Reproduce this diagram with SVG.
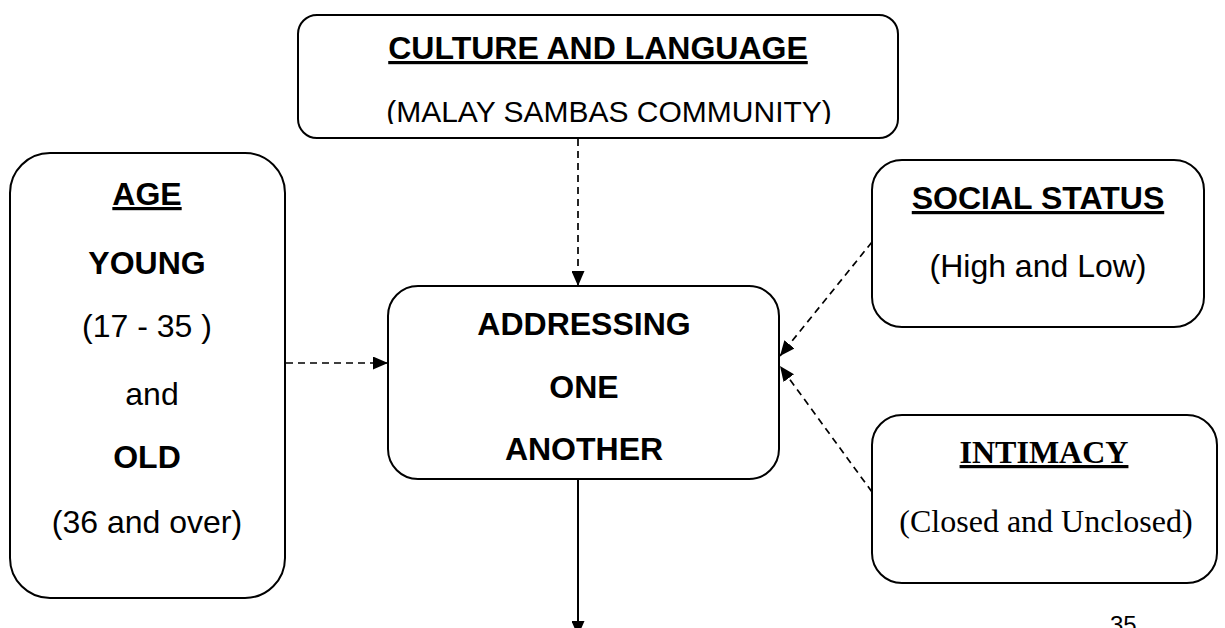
<svg xmlns="http://www.w3.org/2000/svg" width="1225" height="628" viewBox="0 0 1225 628">
<style>
.box{fill:#fff;stroke:#000;stroke-width:2}
.sans{font-family:"Liberation Sans",Arial,sans-serif;font-size:32px;fill:#000;text-anchor:middle}
.serif{font-family:"Liberation Serif","Times New Roman",serif;font-size:32px;fill:#000;text-anchor:middle}
.b{font-weight:bold}
.u{text-decoration:underline}
.dash{fill:none;stroke:#000;stroke-width:1.7;stroke-dasharray:7 5}
.solid{fill:none;stroke:#000;stroke-width:2}
</style>
<defs>
<marker id="ah" viewBox="0 0 15 13" refX="15" refY="6.5" markerWidth="15" markerHeight="13" markerUnits="userSpaceOnUse" orient="auto">
<path d="M0,0 L15,6.5 L0,13 z" fill="#000"/>
</marker>
<clipPath id="clipTop"><rect x="298" y="15" width="600" height="109"/></clipPath>
</defs>
<g id="connectors">
<line class="dash" x1="578" y1="139" x2="578" y2="286" marker-end="url(#ah)"/>
<line class="dash" x1="286" y1="363" x2="388" y2="363" marker-end="url(#ah)"/>
<line class="dash" x1="872" y1="242" x2="780" y2="356" marker-end="url(#ah)"/>
<line class="dash" x1="872" y1="492" x2="780" y2="366" marker-end="url(#ah)"/>
<line class="solid" x1="578" y1="480" x2="578" y2="636" marker-end="url(#ah)"/>
</g>
<g id="culture">
<rect class="box" x="298" y="15" width="600" height="123" rx="19"/>
<text class="sans b u" x="598" y="59">CULTURE AND LANGUAGE</text>
<text class="sans" x="609" y="122" style="font-size:30px" clip-path="url(#clipTop)">(MALAY SAMBAS COMMUNITY)</text>
</g>
<g id="age">
<rect class="box" x="10" y="153" width="275" height="445" rx="40"/>
<text class="sans b u" x="147" y="205">AGE</text>
<text class="sans b" x="147" y="274">YOUNG</text>
<text class="sans" x="147" y="337">(17 - 35 )</text>
<text class="sans" x="152" y="405">and</text>
<text class="sans b" x="147" y="468">OLD</text>
<text class="sans" x="147" y="533">(36 and over)</text>
</g>
<g id="addressing">
<rect class="box" x="388" y="286" width="391" height="193" rx="30"/>
<text class="sans b" x="584" y="335">ADDRESSING</text>
<text class="sans b" x="584" y="398">ONE</text>
<text class="sans b" x="584" y="460">ANOTHER</text>
</g>
<g id="social">
<rect class="box" x="872" y="160" width="332" height="167" rx="30"/>
<text class="sans b u" x="1038" y="209">SOCIAL STATUS</text>
<text class="sans" x="1038" y="277">(High and Low)</text>
</g>
<g id="intimacy">
<rect class="box" x="872" y="415" width="345" height="168" rx="30"/>
<text class="serif b u" x="1044" y="463">INTIMACY</text>
<text class="serif" x="1046" y="532">(Closed and Unclosed)</text>
</g>
<text x="1110" y="633" style="font-family:'Liberation Sans',Arial,sans-serif;font-size:24px;fill:#000">35</text>
</svg>
